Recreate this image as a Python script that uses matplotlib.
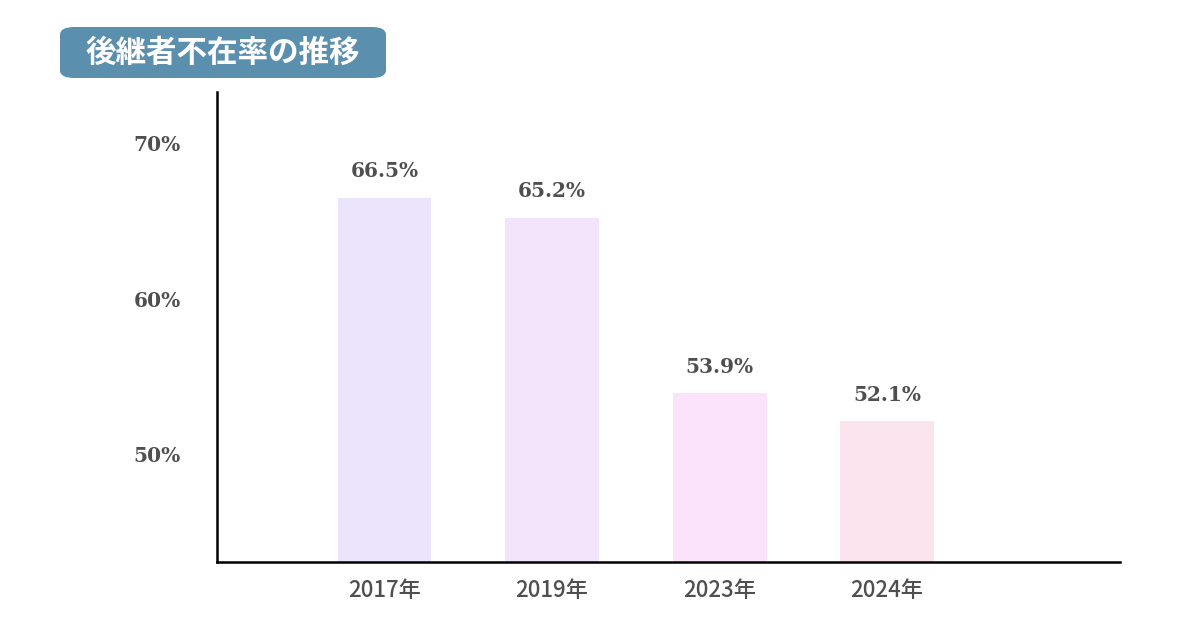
import matplotlib
matplotlib.use('Agg')
from matplotlib import pyplot as plt
from matplotlib.patches import FancyBboxPatch

###############################################################################
years  = ['2017年', '2019年', '2023年', '2024年']
rates  = [66.5, 65.2, 53.9, 52.1]
yticks = [50, 60, 70]
ytick_labels = ['50%', '60%', '70%']
title  = '後継者不在率の推移'

bar_colors = ['#ECE4FC', '#F3E4FC', '#FBE4FB', '#FCE4EE']
txt_color  = '#4f4f4f'
num_font   = ['DejaVu Serif']
jp_font    = ['Noto Sans CJK JP', 'DejaVu Sans']

###############################################################################
fig = plt.figure(figsize=(12, 6.3), dpi=100)
ax = fig.add_axes([217/1200, 1-562/630, (1120-217)/1200, (562-92)/630])

x = range(len(years))
ax.bar(x, rates, width=0.56, color=bar_colors, zorder=1)
for i, r in enumerate(rates):
    ax.annotate('%.1f%%' % r, (i, r), xytext=(0, 12), textcoords='offset points',
                ha='center', va='bottom', fontsize=14.5, color=txt_color,
                family=num_font, fontweight='semibold')

ax.set_xlim(-1, 4.39)
ax.set_ylim(43.05, 73.3)
ax.set_yticks(yticks)
ax.set_yticklabels(ytick_labels, fontsize=14.5, color=txt_color,
                   family=num_font, fontweight='semibold')
ax.set_xticks(list(x))
ax.set_xticklabels(years, fontsize=16, color=txt_color, family=jp_font,
                   fontweight='medium')
ax.tick_params(axis='both', length=0)
ax.tick_params(axis='y', pad=26)
ax.tick_params(axis='x', pad=12)
for s in ('top', 'right'):
    ax.spines[s].set_visible(False)
for s in ('left', 'bottom'):
    ax.spines[s].set_linewidth(1.8)
    ax.spines[s].set_color('black')

# title badge
box = FancyBboxPatch((60/1200, 1-78/630), (386-60)/1200, (78-27)/630,
                     boxstyle='round,pad=0,rounding_size=0.012',
                     transform=fig.transFigure, facecolor='#5A8FAE',
                     edgecolor='none')
fig.patches.append(box)
fig.text((60+386)/2/1200, 1-53/630, title, ha='center', va='center',
         fontsize=22, fontweight='bold', color='white', family=jp_font)

fig.savefig('out.png', dpi=100)
